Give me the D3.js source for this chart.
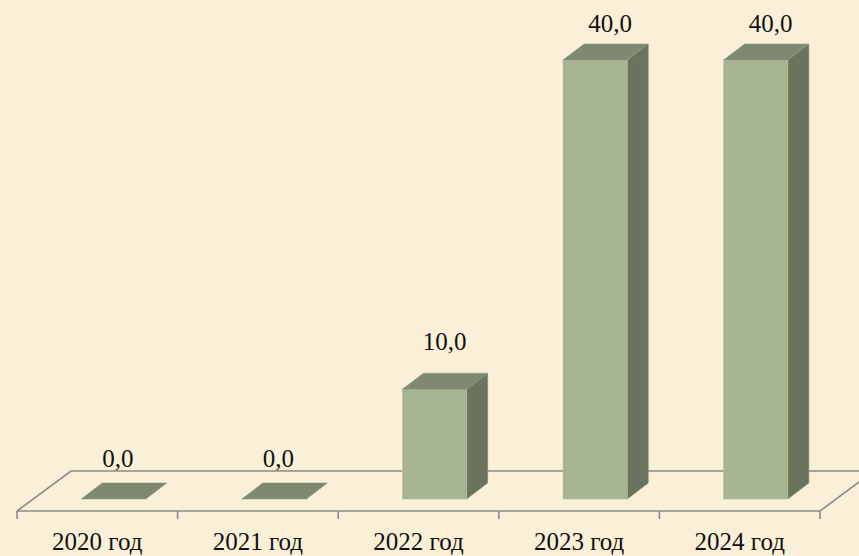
<!DOCTYPE html>
<html>
<head>
<meta charset="utf-8">
<script src="https://cdn.jsdelivr.net/npm/d3@7"></script>
<style>
  html, body { margin: 0; padding: 0; background: #faf0d7; }
  svg { display: block; }
</style>
</head>
<body>
<script>
  const categories = ['2020 год', '2021 год', '2022 год', '2023 год', '2024 год'];
  const values = [0, 0, 10, 40, 40];
  const labels = ['0,0', '0,0', '10,0', '40,0', '40,0'];

  const width = 859;
  const height = 556;

  // oblique depth of floor and of one bar
  const floorDx = 54, floorDy = -40;
  const barDx = 21, barDy = -16;
  const frontShiftX = 16, frontShiftY = -12;

  const x = d3.scaleBand()
    .domain(categories)
    .range([17, 820])
    .paddingInner(0.6)
    .paddingOuter(0.3);

  const floorY = 511;
  const y = d3.scaleLinear().domain([0, 40]).range([floorY + frontShiftY, 60]);

  // label placement drifts a bit with bar height (as in the source chart)
  const labelDx = d3.scaleLinear().domain([0, 10, 40]).range([4.5, 10, 15]);
  const labelDy = d3.scaleLinear().domain([0, 10, 40]).range([32, 39, 28]);

  const svg = d3.select('body').append('svg')
    .attr('width', width)
    .attr('height', height);

  svg.append('rect')
    .attr('width', width).attr('height', height)
    .attr('fill', '#faf0d7');

  // floor
  const x0 = x.range()[0], x1 = x.range()[1];
  svg.append('path')
    .attr('d', `M${x0},${floorY} L${x0 + floorDx},${floorY + floorDy} L${x1 + floorDx},${floorY + floorDy} M${x0},${floorY} L${x1},${floorY} L${x1 + floorDx},${floorY + floorDy}`)
    .attr('fill', 'none')
    .attr('stroke', '#8a8a8a')
    .attr('stroke-width', 1.6);

  // category ticks
  const step = x.step();
  const tickXs = d3.range(categories.length + 1).map(i => x0 + i * step);
  svg.append('g').selectAll('line')
    .data(tickXs)
    .join('line')
    .attr('x1', d => d).attr('x2', d => d)
    .attr('y1', floorY).attr('y2', floorY + 8)
    .attr('stroke', '#8a8a8a')
    .attr('stroke-width', 1.6);

  const data = categories.map((c, i) => ({ cat: c, value: values[i], label: labels[i] }));

  const bars = svg.append('g').selectAll('g')
    .data(data)
    .join('g');

  const bx = d => x(d.cat) + frontShiftX;
  const bw = x.bandwidth();
  const b0 = y(0);

  // side face
  bars.append('path')
    .attr('d', d => {
      const l = bx(d) + bw, t = y(d.value);
      return `M${l},${b0} L${l + barDx},${b0 + barDy} L${l + barDx},${t + barDy} L${l},${t} Z`;
    })
    .attr('fill', '#6a735c')
    .attr('stroke', '#7d8570')
    .attr('stroke-width', 0.6);

  // front face
  bars.filter(d => d.value > 0).append('rect')
    .attr('x', d => bx(d))
    .attr('y', d => y(d.value))
    .attr('width', bw)
    .attr('height', d => b0 - y(d.value))
    .attr('fill', '#a6b491')
    .attr('stroke', '#b7c3a4')
    .attr('stroke-width', 0.6);

  // top face
  bars.append('path')
    .attr('d', d => {
      const l = bx(d), t = y(d.value);
      return `M${l},${t} L${l + barDx},${t + barDy} L${l + bw + barDx},${t + barDy} L${l + bw},${t} Z`;
    })
    .attr('fill', '#7f8970')
    .attr('stroke', '#8e977f')
    .attr('stroke-width', 0.6);

  // value labels
  svg.append('g').selectAll('text')
    .data(data)
    .join('text')
    .attr('x', d => bx(d) + bw / 2 + labelDx(d.value))
    .attr('y', d => y(d.value) - labelDy(d.value))
    .attr('text-anchor', 'middle')
    .attr('font-family', '"Liberation Serif", "Times New Roman", serif')
    .attr('font-size', 25)
    .attr('fill', '#111')
    .text(d => d.label);

  // category labels
  svg.append('g').selectAll('text')
    .data(categories)
    .join('text')
    .attr('x', d => x(d) + x.bandwidth() / 2)
    .attr('y', 550)
    .attr('text-anchor', 'middle')
    .attr('font-family', '"Liberation Serif", "Times New Roman", serif')
    .attr('font-size', 25)
    .attr('fill', '#111')
    .text(d => d);
</script>
</body>
</html>
